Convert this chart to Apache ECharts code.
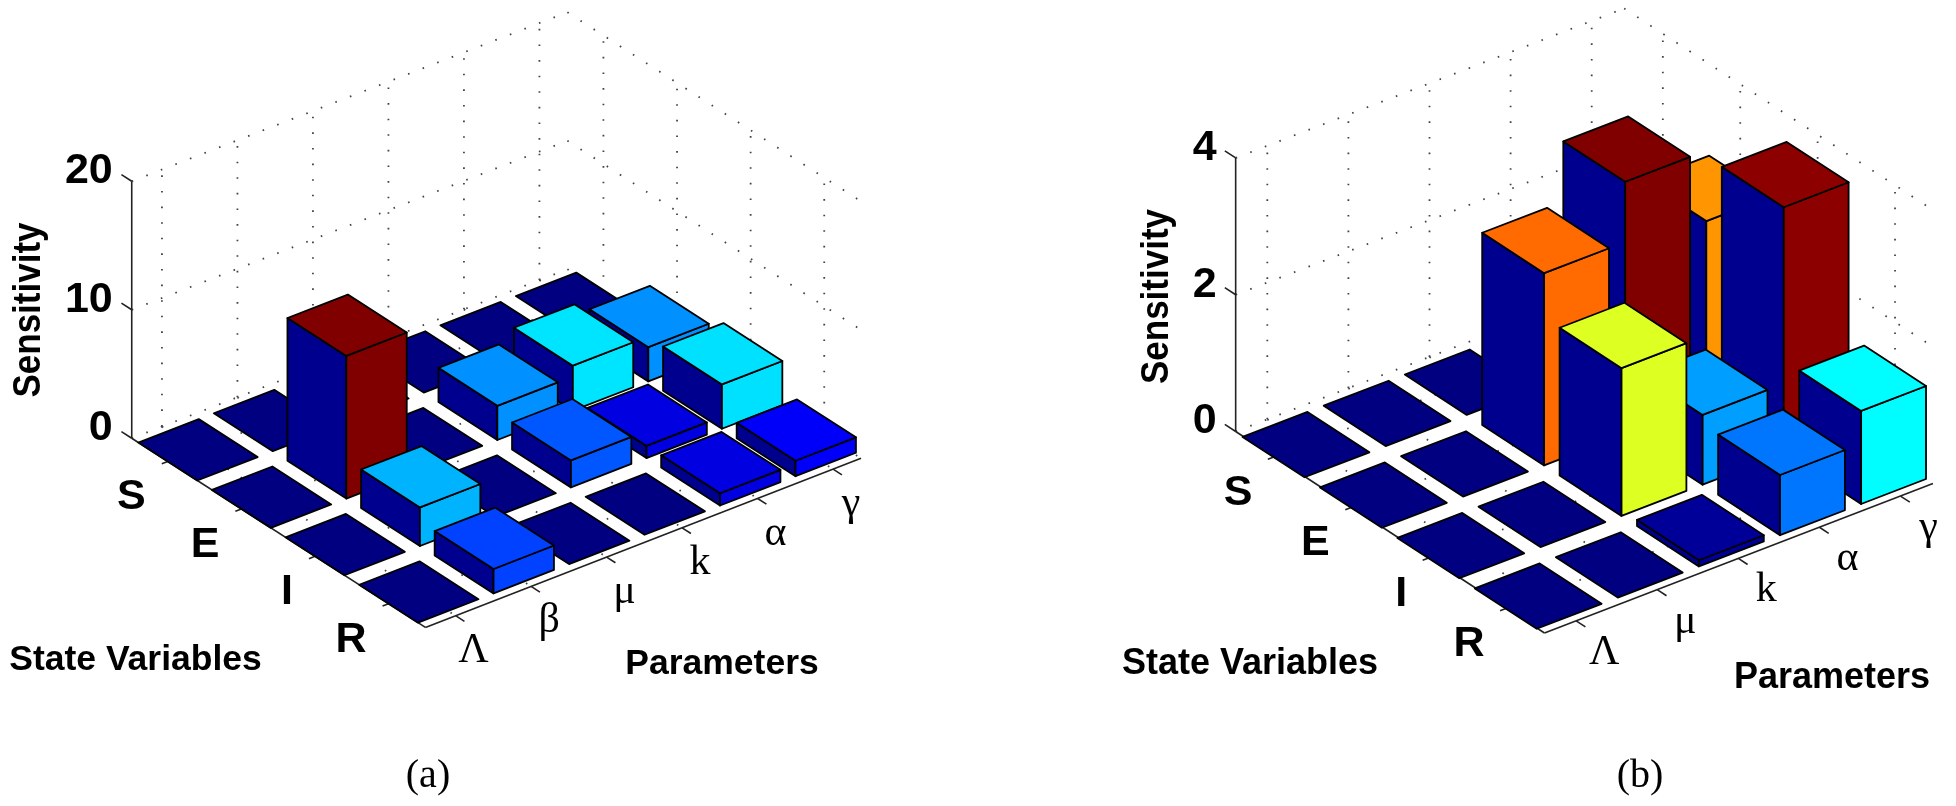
<!DOCTYPE html>
<html><head><meta charset="utf-8">
<style>html,body{margin:0;padding:0;background:#fff}#c{width:1956px;height:806px;filter:blur(0.5px)}</style>
<script src="https://cdn.jsdelivr.net/npm/echarts@6/dist/echarts.min.js"></script>
</head><body><div id="c"></div>
<script>
// ---- data ----
const stateLabels = ['S','E','I','R'];
const paramsA = ['Λ','β','μ','k','α','γ'];
const zTicksA = [0,10,20];
const sensA_S = [0,0,0,0,0,0];
const sensA_E = [0,11.1,0,2.66,3.5,2.66];
const sensA_I = [0,3.0,0,2.1,0.95,3.45];
const sensA_R = [0,1.9,0,0,0.95,1.2];

const paramsB = ['Λ','μ','k','α','γ'];
const zTicksB = [0,2,4];
const sensB_S = [0,0,0,0,0];
const sensB_E = [0,0,2.81,3.69,2.66];
const sensB_I = [0,0,2.16,1.02,3.6];
const sensB_R = [0,0,0.09,0.88,1.36];

// ---- projection settings of each panel (screen units per data unit) ----
const panelA = {
  params: paramsA, zTicks: zTicksA, rows: [sensA_S,sensA_E,sensA_I,sensA_R], cmax: 10,
  o:[198,449.8], col:[75.5,-29.3], row:[73.6,47.4], zs:12.85,
  cLim:[-0.4,5.37], rLim:[-0.49,3.5],
  zLabelDx:-19, zLabelDy:-10, paramDx:18, paramDy:35, titleSize:35.5,
  sens:[29,310], sv:[135.5,660], pa:[722,664], cap:'(a)', capPos:[428,776]
};
const panelB = {
  params: paramsB, zTicks: zTicksB, rows: [sensB_S,sensB_E,sensB_I,sensB_R], cmax: 3.65,
  o:[1306,444.6], col:[81.1,-31.2], row:[77.4,50.5], zs:68.4,
  cLim:[-0.39,4.4], rLim:[-0.5,3.49],
  zLabelDx:-19, zLabelDy:-10, paramDx:28, paramDy:32, titleSize:36,
  sens:[1157,296.5], sv:[1250,664], pa:[1832,678], cap:'(b)', capPos:[1640,776]
};

const HALF = 0.4;
const clamp = v => Math.max(0, Math.min(1, v));
function jet(t){
  t = clamp(t);
  const r = clamp(Math.min(4*t-1.5, -4*t+4.5));
  const g = clamp(Math.min(4*t-0.5, -4*t+3.5));
  const b = clamp(Math.min(4*t+0.5, -4*t+2.5));
  return 'rgb('+[r,g,b].map(v=>Math.round(v*255)).join(',')+')';
}
const proj = (p,c,r,z) => [p.o[0]+c*p.col[0]+r*p.row[0], p.o[1]+c*p.col[1]+r*p.row[1]-z*p.zs];

const boldFont = s => 'bold '+s+'px "Liberation Sans", Arial, sans-serif';
const serifFont = s => s+'px "Liberation Serif", "Times New Roman", serif';

function barSeries(p){
  const items = [];
  p.rows.forEach((vals,r)=>vals.forEach((v,c)=>items.push([c,r,v])));
  items.sort((a,b)=>(a[1]-a[0])-(b[1]-b[0]));
  return {
    type:'custom', coordinateSystem:'cartesian2d', clip:false, silent:true, z:3, data:items,
    renderItem(params,api){
      const c=api.value(0), r=api.value(1), v=api.value(2);
      const pt=(a,b,z)=>api.coord(proj(p,c+a*HALF,r+b*HALF,z));
      const fill=jet(v/p.cmax), side='#00008f';
      const edge={stroke:'#000',lineWidth:1.8,lineJoin:'round'};
      const poly=(pts,f)=>({type:'polygon',shape:{points:pts},style:Object.assign({fill:f},edge)});
      const kids=[];
      if(v>0){
        // navy face on the low-parameter side, coloured face on the front-state side
        kids.push(poly([pt(-1,-1,0),pt(-1,1,0),pt(-1,1,v),pt(-1,-1,v)],side));
        kids.push(poly([pt(-1,1,0),pt(1,1,0),pt(1,1,v),pt(-1,1,v)],fill));
      }
      kids.push(poly([pt(-1,-1,v),pt(1,-1,v),pt(1,1,v),pt(-1,1,v)],fill));
      return {type:'group',children:kids};
    }
  };
}

function frameSeries(p){
  return {
    type:'custom', coordinateSystem:'cartesian2d', clip:false, silent:true, z:2, data:[[0]],
    renderItem(params,api){
      const P=(c,r,z)=>api.coord(proj(p,c,r,z));
      const [c0,c1]=p.cLim, [r0,r1]=p.rLim;
      const zMax=p.zTicks[p.zTicks.length-1];
      const kids=[];
      const line=(a,b,style)=>kids.push({type:'line',shape:{x1:a[0],y1:a[1],x2:b[0],y2:b[1]},style:style});
      const dot={stroke:'#444',lineWidth:1.8,lineDash:[1.6,14]};
      const solid={stroke:'#222',lineWidth:1.6};
      const nC=p.params.length;
      // walls: horizontal grid lines
      p.zTicks.forEach(z=>{
        line(P(c0,r0,z),P(c1,r0,z),dot);
        line(P(c1,r0,z),P(c1,r1,z),dot);
      });
      // walls: vertical grid lines + floor grid
      for(let c=0;c<nC;c++){ line(P(c,r0,0),P(c,r0,zMax),dot); line(P(c,r0,0),P(c,r1,0),dot); }
      stateLabels.forEach((s,r)=>{ line(P(c1,r,0),P(c1,r,zMax),dot); line(P(c0,r,0),P(c1,r,0),dot); });
      // solid axes
      line(P(c0,r0,0),P(c0,r0,zMax),solid);
      line(P(c0,r0,0),P(c0,r1,0),solid);
      line(P(c0,r1,0),P(c1,r1,0),solid);
      // ticks and labels
      const text=(t,at,font,align,rot,sy)=>kids.push({type:'text',x:at[0],y:at[1],rotation:rot||0,scaleY:sy||1,
        style:{text:t,font:font,fill:'#000',align:align||'center',verticalAlign:'middle'}});
      p.zTicks.forEach(z=>{
        const a=P(c0,r0,z); line(a,P(c0,r0-0.14,z),solid);
        text(String(z),[a[0]+p.zLabelDx,a[1]+p.zLabelDy],boldFont(43),'right');
      });
      stateLabels.forEach((s,r)=>{
        const a=P(c0,r,0); line(a,P(c0-0.08,r,0),solid);
        text(s,[a[0]-22,a[1]+36],boldFont(43),'right');
      });
      p.params.forEach((s,c)=>{
        const a=P(c,r1,0); line(a,P(c,r1+0.12,0),solid);
        text(s,[a[0]+p.paramDx,a[1]+p.paramDy],serifFont(42),'center');
      });
      // panel titles
      text('Sensitivity',p.sens,boldFont(35),'center',Math.PI/2,1.12);
      text('State Variables',p.sv,boldFont(p.titleSize),'center');
      text('Parameters',p.pa,boldFont(p.titleSize),'center');
      text(p.cap,p.capPos,serifFont(40),'center');
      return {type:'group',children:kids};
    }
  };
}

const chart = echarts.init(document.getElementById('c'));
chart.setOption({
  backgroundColor:'#fff',
  animation:false,
  grid:{left:0,right:0,top:0,bottom:0},
  xAxis:{type:'value',min:0,max:1956,show:false},
  yAxis:{type:'value',min:0,max:806,inverse:true,show:false},
  series:[frameSeries(panelA),barSeries(panelA),frameSeries(panelB),barSeries(panelB)]
});
</script></body></html>
